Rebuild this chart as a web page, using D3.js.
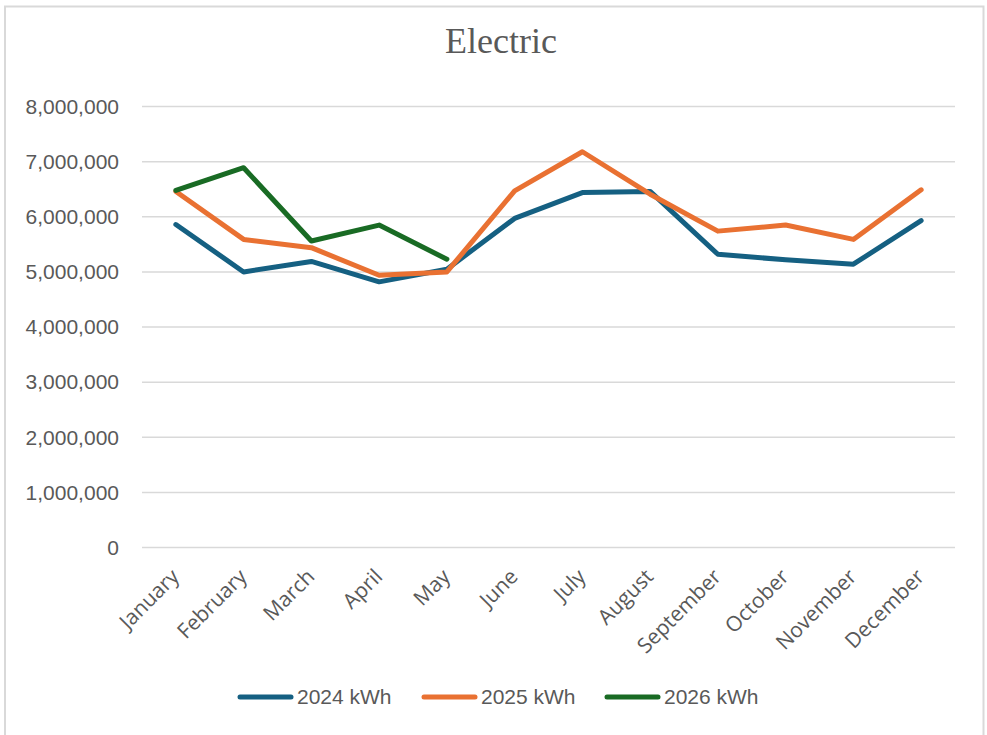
<!DOCTYPE html>
<html>
<head>
<meta charset="utf-8">
<script src="https://cdn.jsdelivr.net/npm/d3@7"></script>
<style>
html,body{margin:0;padding:0;background:#fff;}
svg{display:block;}
</style>
</head>
<body>
<svg id="chart" width="987" height="735"></svg>
<script>
const months = ["January","February","March","April","May","June","July","August","September","October","November","December"];
const series2024 = [5850000, 4990000, 5180000, 4810000, 5040000, 5960000, 6430000, 6450000, 5310000, 5210000, 5130000, 5920000];
const series2025 = [6450000, 5580000, 5430000, 4930000, 4990000, 6460000, 7170000, 6400000, 5730000, 5840000, 5580000, 6480000];
const series2026 = [6470000, 6880000, 5550000, 5840000, 5220000];
const seriesNames = ["2024 kWh","2025 kWh","2026 kWh"];
const seriesColors = ["#156082","#E97132","#196B24"];
const yTicks = [0,1000000,2000000,3000000,4000000,5000000,6000000,7000000,8000000];

const svg = d3.select("#chart");
const m = {left:142, right:955, top:106, bottom:547};

// border
svg.append("rect").attr("x",5).attr("y",6.5).attr("width",978.5).attr("height",740)
  .attr("fill","#fff").attr("stroke","#d9d9d9").attr("stroke-width",2);

// title
svg.append("text").attr("x",501).attr("y",53).attr("text-anchor","middle")
  .attr("font-family","Liberation Serif, DejaVu Serif, serif").attr("font-size",36)
  .attr("fill","#595959").text("Electric");

const x = d3.scalePoint().domain(months).range([m.left, m.right]).padding(0.5);
const y = d3.scaleLinear().domain([0,8000000]).range([m.bottom, m.top]);

// gridlines + y labels
const yAxis = d3.axisLeft(y).tickValues(yTicks).tickSize(-(m.right-m.left)).tickFormat(d3.format(","));
const gy = svg.append("g").attr("transform",`translate(${m.left},0)`).call(yAxis);
gy.select(".domain").remove();
gy.selectAll(".tick line").attr("stroke","#d9d9d9").attr("stroke-width",1.5);
gy.selectAll(".tick text").attr("x",-23).attr("dy","0.35em")
  .attr("font-family","Liberation Sans, Arial, sans-serif").attr("font-size",21).attr("fill","#595959");

// x axis labels
const xAxis = d3.axisBottom(x).tickSize(0);
const gx = svg.append("g").attr("transform",`translate(0,${m.bottom})`).call(xAxis);
gx.select(".domain").remove();
gx.selectAll(".tick text")
  .attr("font-family","Open Sans, Noto Sans, sans-serif").attr("font-size",21).attr("fill","#595959")
  .attr("text-anchor","end").attr("dy",0).attr("y",0)
  .attr("transform","translate(4,31) rotate(-45)");

// lines
const data = [series2024, series2025, series2026];
const line = d3.line().x((d,i)=>x(months[i])).y(d=>y(d));
data.forEach((s,i)=>{
  svg.append("path").datum(s).attr("d",line).attr("fill","none")
    .attr("stroke",seriesColors[i]).attr("stroke-width",5)
    .attr("stroke-linejoin","round").attr("stroke-linecap","round");
});

// legend
const legX = [240, 424, 607];
seriesNames.forEach((n,i)=>{
  const g = svg.append("g").attr("transform",`translate(${legX[i]},697)`);
  g.append("line").attr("x1",0).attr("x2",51).attr("y1",0).attr("y2",0)
    .attr("stroke",seriesColors[i]).attr("stroke-width",5).attr("stroke-linecap","round");
  g.append("text").attr("x",57).attr("y",0).attr("dy","0.35em")
    .attr("font-family","Liberation Sans, Arial, sans-serif").attr("font-size",21).attr("fill","#595959").text(n);
});
</script>
</body>
</html>
